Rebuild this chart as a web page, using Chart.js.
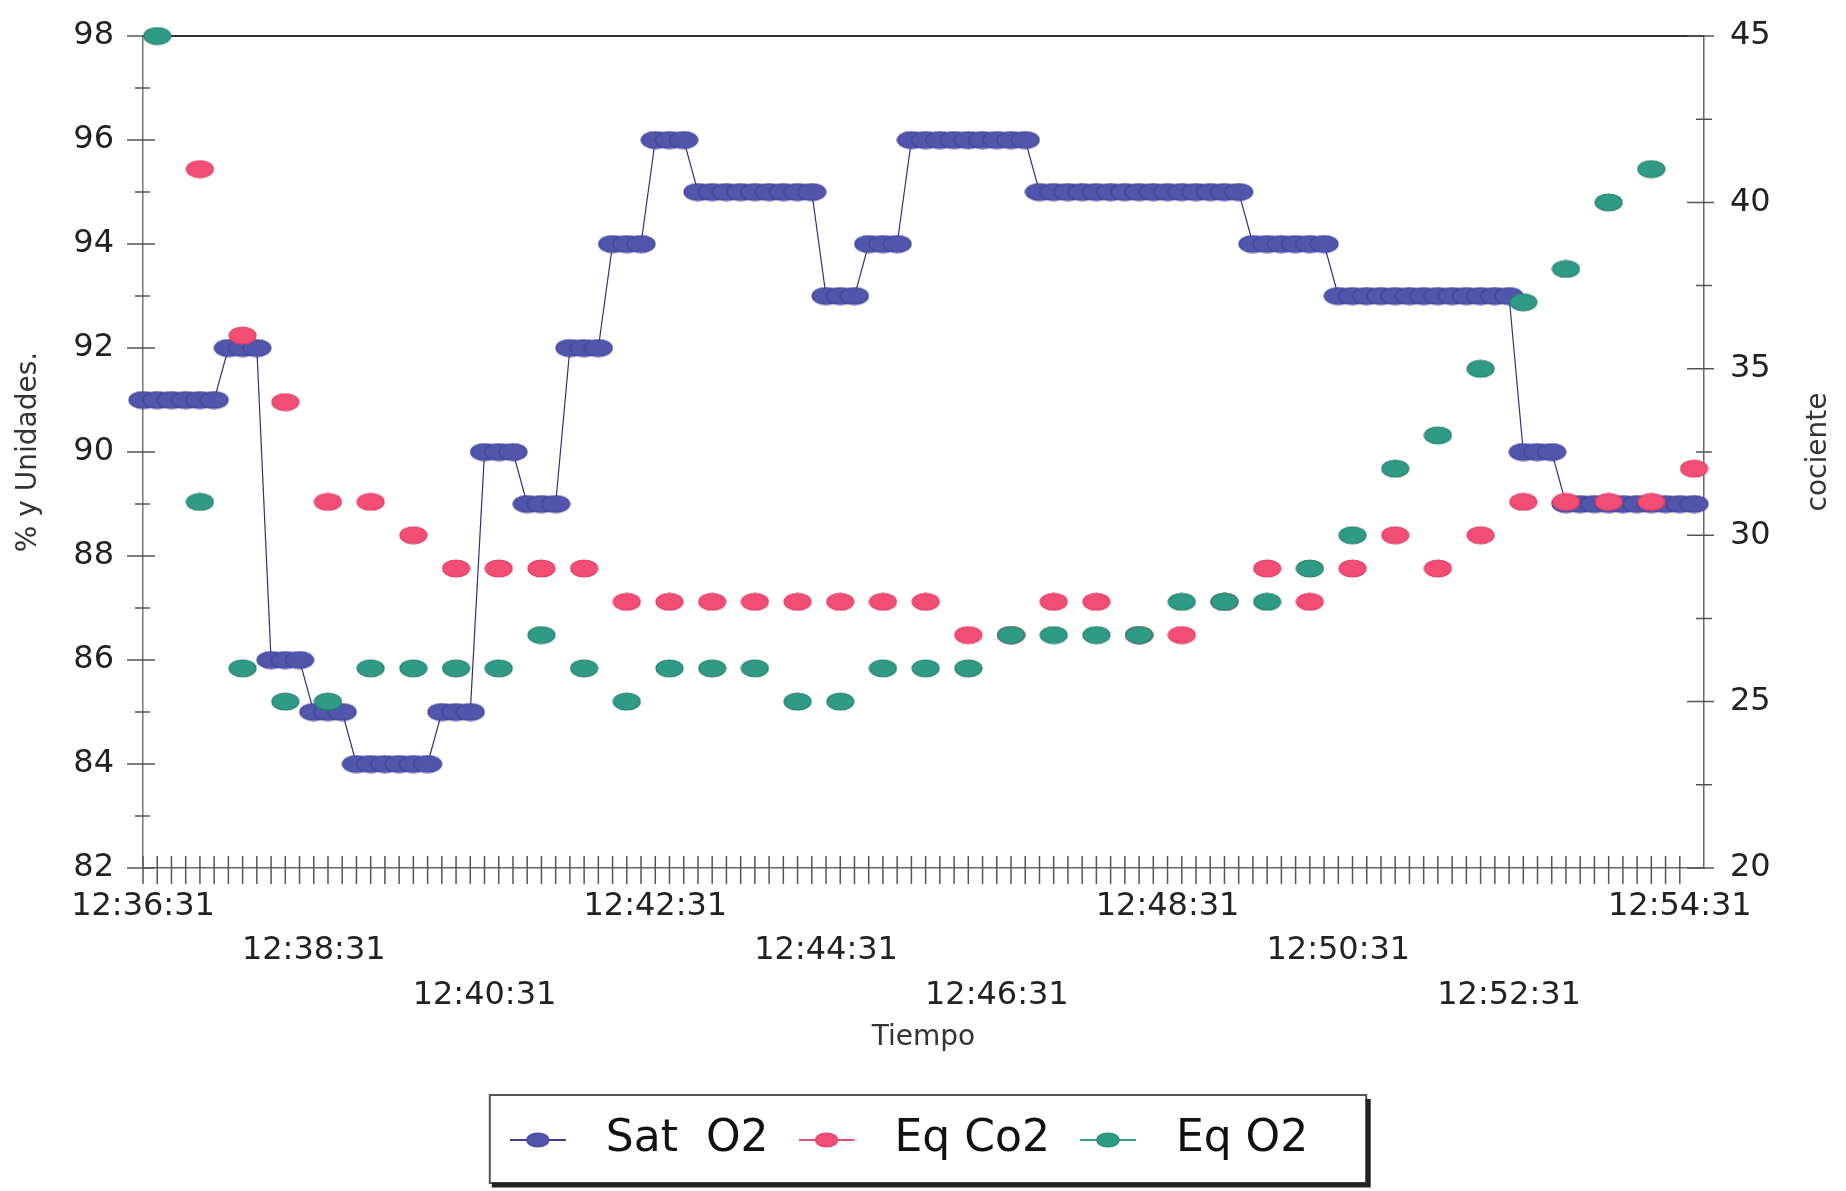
<!DOCTYPE html>
<html>
<head>
<meta charset="utf-8">
<title>Sat O2 / Eq Co2 / Eq O2</title>
<script src="https://cdn.jsdelivr.net/npm/chart.js@4.4.1/dist/chart.umd.min.js"></script>
<style>
  html, body { margin: 0; padding: 0; background: #fff; }
</style>
</head>
<body>
<canvas id="chart" width="1846" height="1191"></canvas>
<script>
const seriesNames = ["Sat  O2", "Eq Co2", "Eq O2"];
const timeLabels = ["12:36:31", "12:38:31", "12:40:31", "12:42:31", "12:44:31",
  "12:46:31", "12:48:31", "12:50:31", "12:52:31", "12:54:31"];
const leftTitle = "% y Unidades.";
const rightTitle = "cociente";
const bottomTitle = "Tiempo";

// Sat O2 (%), one reading every 10 s from 12:36:31
const satStep = 10;
const satO2 = [
  91, 91, 91, 91, 91, 91, 92, 92, 92, 86,
  86, 86, 85, 85, 85, 84, 84, 84, 84, 84,
  84, 85, 85, 85, 90, 90, 90, 89, 89, 89,
  92, 92, 92, 94, 94, 94, 96, 96, 96, 95,
  95, 95, 95, 95, 95, 95, 95, 95, 93, 93,
  93, 94, 94, 94, 96, 96, 96, 96, 96, 96,
  96, 96, 96, 95, 95, 95, 95, 95, 95, 95,
  95, 95, 95, 95, 95, 95, 95, 95, 94, 94,
  94, 94, 94, 94, 93, 93, 93, 93, 93, 93,
  93, 93, 93, 93, 93, 93, 93, 90, 90, 90,
  89, 89, 89, 89, 89, 89, 89, 89, 89, 89
];

// ventilatory equivalents (cociente), one every 30 s starting 10 s in
const eqStart = 10;
const eqStep = 30;
const eqCo2 = [
  null, 41, 36, 34, 31, 31, 30, 29, 29, 29,
  29, 28, 28, 28, 28, 28, 28, 28, 28, 27,
  27, 28, 28, 27, 27, 28, 29, 28, 29, 30,
  29, 30, 31, 31, 31, 31, 32
];
const eqO2 = [
  45, 31, 26, 25, 25, 26, 26, 26, 26, 27,
  26, 25, 26, 26, 26, 25, 25, 26, 26, 26,
  27, 27, 27, 27, 28, 28, 28, 29, 30, 32,
  33, 35, 37, 38, 40, 41, null
];

const xMax = 1097;
const FONT = "DejaVu Sans";

// flattened dots like the scanned original
function marker(fill, edge, w, h, lineColor, boxW) {
  const c = document.createElement("canvas");
  c.width = boxW || w + 2;
  c.height = h + 2;
  const g = c.getContext("2d");
  let cx = c.width / 2;
  if (lineColor) {
    cx = 28;
    g.strokeStyle = lineColor;
    g.lineWidth = 2;
    g.beginPath();
    g.moveTo(0, c.height / 2);
    g.lineTo(56, c.height / 2);
    g.stroke();
  }
  g.fillStyle = fill;
  g.strokeStyle = edge;
  g.lineWidth = 1.2;
  g.beginPath();
  g.ellipse(cx, c.height / 2, w / 2, h / 2, 0, 0, Math.PI * 2);
  g.fill();
  g.stroke();
  return c;
}

const blue = ["#5155ab", "#40449a"];
const pink = ["#f14d75", "#df3e66"];
const teal = ["#2f9a86", "#24806f"];

const dots = [
  marker(blue[0], blue[1], 28, 17),
  marker(pink[0], pink[1], 27, 17),
  marker(teal[0], teal[1], 27, 17)
];
const legendIcons = [
  marker(blue[0], blue[1], 22, 14, "#3a3e8c", 74),
  marker(pink[0], pink[1], 22, 14, "#e0506f", 74),
  marker(teal[0], teal[1], 22, 14, "#3a9a88", 74)
];

// invisible tick marks only push the labels away from the axis line
const hiddenTicks = (len) => ({
  display: true,
  drawOnChartArea: false,
  drawTicks: true,
  tickLength: len,
  tickColor: "rgba(0,0,0,0)",
  color: "rgba(0,0,0,0)"
});

const frame = {
  id: "frame",
  beforeDatasetsDraw(chart) {
    const { ctx, chartArea: a, scales } = chart;
    ctx.save();
    ctx.strokeStyle = "#333";
    ctx.lineWidth = 2;
    ctx.beginPath();
    ctx.moveTo(a.left, a.top);
    ctx.lineTo(a.right, a.top);
    ctx.stroke();

    ctx.strokeStyle = "#555";
    ctx.lineWidth = 1.5;
    ctx.beginPath();
    scales.y.ticks.forEach((t) => {
      const p = scales.y.getPixelForValue(t.value);
      const big = t.value % 2 === 0;
      ctx.moveTo(a.left - (big ? 16 : 8), p);
      ctx.lineTo(a.left + (big ? 12 : 7), p);
    });
    scales.y1.ticks.forEach((t) => {
      const p = scales.y1.getPixelForValue(t.value);
      const big = t.value % 5 === 0;
      ctx.moveTo(a.right - (big ? 17 : 8), p);
      ctx.lineTo(a.right + (big ? 10 : 8), p);
    });
    scales.x.ticks.forEach((t) => {
      if (t.value % satStep) return;
      const p = scales.x.getPixelForValue(t.value);
      ctx.moveTo(p, a.bottom - 12);
      ctx.lineTo(p, a.bottom + 16);
    });
    ctx.stroke();

    // right title reads bottom-to-top like the left one
    ctx.fillStyle = "#333";
    ctx.font = "28px '" + FONT + "'";
    ctx.textAlign = "center";
    ctx.textBaseline = "middle";
    ctx.translate(scales.y1.right - 27, (a.top + a.bottom) / 2);
    ctx.rotate(-Math.PI / 2);
    ctx.fillText(rightTitle, 0, 0);
    ctx.restore();
  },
  afterDraw(chart) {
    const hb = chart.legend && chart.legend.legendHitBoxes;
    if (!hb || !hb.length) return;
    const { ctx } = chart;
    const cy = hb[0].top + hb[0].height / 2;
    const last = hb[hb.length - 1];
    const left = hb[0].left - 20;
    const right = last.left + last.width + 30;
    const top = cy - 45;
    const bottom = cy + 43;
    ctx.save();
    ctx.strokeStyle = "#555";
    ctx.lineWidth = 2;
    ctx.strokeRect(left, top, right - left, bottom - top);
    ctx.strokeStyle = "#222";
    ctx.lineWidth = 5;
    ctx.beginPath();
    ctx.moveTo(right + 2, top + 4);
    ctx.lineTo(right + 2, bottom + 2);
    ctx.lineTo(left + 2, bottom + 2);
    ctx.stroke();
    ctx.restore();
  }
};

const ctx = document.getElementById("chart").getContext("2d");

const chart = new Chart(ctx, {
  type: "line",
  data: {
    datasets: [
      {
        label: seriesNames[0],
        data: satO2.map((v, i) => ({ x: i * satStep, y: v })),
        yAxisID: "y",
        borderColor: "#2b2f7c",
        borderWidth: 1.2,
        pointStyle: dots[0],
        order: 3,
        clip: false
      },
      {
        label: seriesNames[1],
        data: eqCo2.map((v, k) => ({ x: eqStart + k * eqStep, y: v })),
        yAxisID: "y1",
        showLine: false,
        pointStyle: dots[1],
        order: 2,
        clip: false
      },
      {
        label: seriesNames[2],
        data: eqO2.map((v, k) => ({ x: eqStart + k * eqStep, y: v })),
        yAxisID: "y1",
        showLine: false,
        pointStyle: dots[2],
        order: 1,
        clip: false
      }
    ]
  },
  options: {
    responsive: false,
    animation: false,
    events: [],
    layout: { padding: { top: 36, bottom: 19, left: 0, right: 0 } },
    scales: {
      x: {
        type: "linear",
        min: 0,
        max: xMax,
        grid: { display: false, drawTicks: false },
        border: { display: true, color: "#666", width: 1.5 },
        ticks: {
          stepSize: satStep,
          autoSkip: false,
          maxRotation: 0,
          minRotation: 0,
          padding: 16,
          color: "#222",
          font: { family: FONT, size: 32, lineHeight: 1.39 },
          callback: (v) => {
            if (v % 120) return "";
            const i = v / 120;
            return Array(i % 3).fill("").concat(timeLabels[i]);
          }
        },
        title: {
          display: true,
          text: bottomTitle,
          color: "#333",
          font: { family: FONT, size: 28 },
          padding: { top: 0, bottom: 33 }
        },
        afterFit: (s) => { s.height = 220; }
      },
      y: {
        position: "left",
        min: 82,
        max: 98,
        grid: hiddenTicks(29),
        border: { display: true, color: "#777", width: 1.5 },
        ticks: {
          stepSize: 1,
          autoSkip: false,
          padding: 0,
          color: "#222",
          font: { family: FONT, size: 32 },
          callback: (v) => (v % 2 === 0 ? String(v) : "")
        },
        title: {
          display: true,
          text: leftTitle,
          color: "#333",
          font: { family: FONT, size: 28 },
          padding: { top: 12, bottom: 0 }
        },
        afterFit: (s) => { s.width = 143; }
      },
      y1: {
        position: "right",
        min: 20,
        max: 45,
        grid: hiddenTicks(26),
        border: { display: true, color: "#666", width: 1.5 },
        ticks: {
          stepSize: 2.5,
          autoSkip: false,
          padding: 0,
          color: "#222",
          font: { family: FONT, size: 32 },
          callback: (v) => (v % 5 === 0 ? String(v) : "")
        },
        afterFit: (s) => { s.width = 142; }
      }
    },
    plugins: {
      tooltip: { enabled: false },
      legend: {
        position: "bottom",
        labels: {
          usePointStyle: true,
          pointStyleWidth: 74,
          padding: 30,
          color: "#111",
          font: { family: FONT, size: 44 },
          generateLabels: (c) =>
            c.data.datasets.map((ds, i) => ({
              text: ds.label + (i === 2 ? "  " : ""),
              pointStyle: legendIcons[i],
              fillStyle: "transparent",
              strokeStyle: "transparent",
              lineWidth: 0,
              fontColor: "#111",
              hidden: false,
              datasetIndex: i
            }))
        }
      }
    }
  },
  plugins: [frame]
});
</script>
</body>
</html>
